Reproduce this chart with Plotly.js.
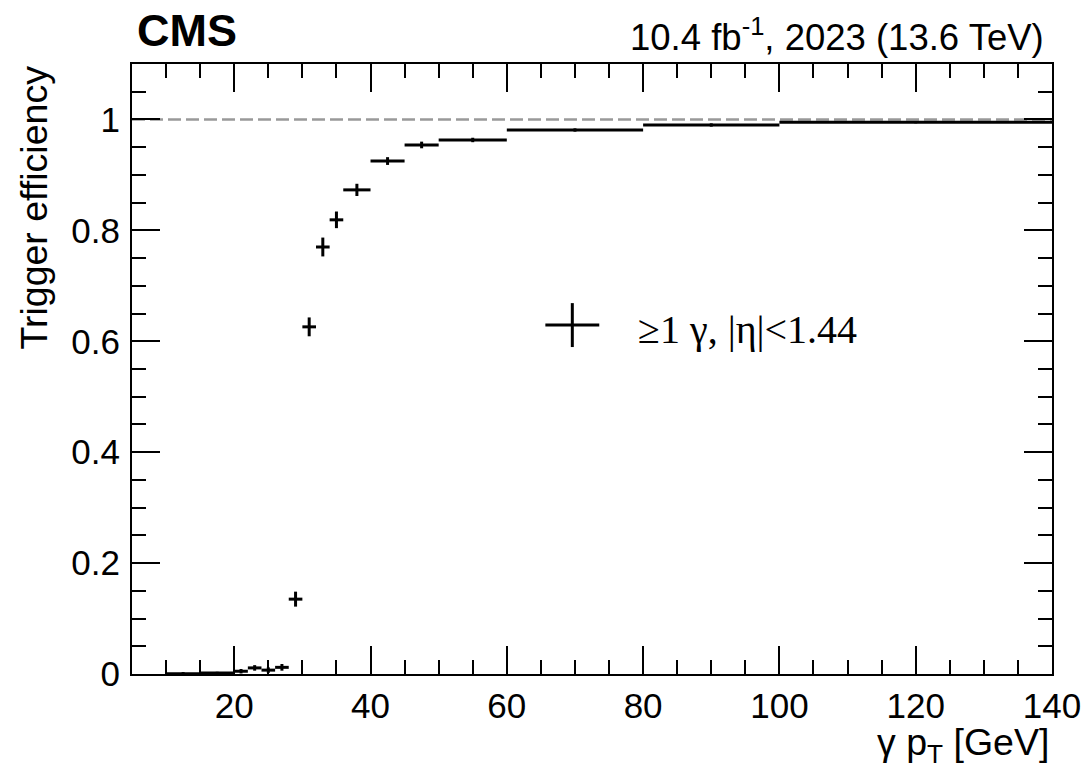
<!DOCTYPE html>
<html>
<head>
<meta charset="utf-8">
<script src="https://cdn.plot.ly/plotly-3.0.1.min.js"></script>
<style>html,body{margin:0;padding:0;background:#fff;}#chart{width:1086px;height:777px;}</style>
</head>
<body>
<div id="chart"></div>
<script>
// Bin centres (GeV), bin half-widths, efficiency and its uncertainty
const binCenters = [12.5, 17.5, 21, 23, 25, 27, 29, 31, 33, 35, 38, 42.5, 47.5, 55, 70, 90, 120];
const binHalfWidths = [2.5, 2.5, 1, 1, 1, 1, 1, 1, 1, 1, 2, 2.5, 2.5, 5, 10, 10, 20];
const efficiency = [0.0005, 0.002, 0.005, 0.011, 0.007, 0.012, 0.135, 0.626, 0.770, 0.819, 0.873, 0.925, 0.954, 0.963, 0.981, 0.990, 0.995];
const effErrors = [0.003, 0.002, 0.004, 0.005, 0.005, 0.006, 0.0135, 0.017, 0.017, 0.015, 0.011, 0.007, 0.006, 0.004, 0.003, 0.003, 0.002];
const legendLabel = "≥1 γ, |η|<1.44";
const referenceLevel = 1;

const trace = {
  x: binCenters,
  y: efficiency,
  type: 'scatter',
  mode: 'markers',
  marker: {size: 1, color: '#000'},
  error_x: {type: 'data', array: binHalfWidths, symmetric: true, color: '#000', thickness: 3, width: 0},
  error_y: {type: 'data', array: effErrors, symmetric: true, color: '#000', thickness: 3, width: 0},
  showlegend: false,
  hoverinfo: 'x+y'
};

const sans = 'Liberation Sans, Arial, sans-serif';
const tickFont = {family: sans, size: 35, color: '#000'};

const layout = {
  width: 1086, height: 777,
  margin: {l: 132, r: 34, t: 64, b: 103},
  paper_bgcolor: '#fff', plot_bgcolor: '#fff',
  showlegend: false,
  xaxis: {
    range: [5, 140], dtick: 20, tick0: 0,
    showgrid: false, zeroline: false,
    showline: true, linecolor: '#000', linewidth: 2, mirror: 'ticks',
    ticks: 'inside', ticklen: 28, tickwidth: 2, tickcolor: '#000',
    minor: {dtick: 5, ticks: 'inside', ticklen: 14, tickwidth: 2, tickcolor: '#000', showgrid: false},
    tickfont: tickFont, ticklabelstandoff: 0
  },
  yaxis: {
    range: [0, 1.1], dtick: 0.2, tick0: 0,
    showgrid: false, zeroline: false,
    showline: true, linecolor: '#000', linewidth: 2, mirror: 'ticks',
    ticks: 'inside', ticklen: 28, tickwidth: 2, tickcolor: '#000',
    minor: {dtick: 0.05, ticks: 'inside', ticklen: 14, tickwidth: 2, tickcolor: '#000', showgrid: false},
    tickfont: tickFont, ticklabelstandoff: 3
  },
  shapes: [
    {type: 'line', xref: 'x', yref: 'y', x0: 5, x1: 140, y0: referenceLevel, y1: referenceLevel,
     line: {color: '#999', width: 2.5, dash: '13px,5px'}, layer: 'below'},
    // legend symbol (cross)
    {type: 'line', xref: 'paper', yref: 'paper', x0: 0.4493, x1: 0.5079, y0: 0.572, y1: 0.572, line: {color: '#000', width: 3}},
    {type: 'line', xref: 'paper', yref: 'paper', x0: 0.4786, x1: 0.4786, y0: 0.536, y1: 0.608, line: {color: '#000', width: 3}}
  ],
  annotations: [
    {text: '<b>CMS</b>', xref: 'paper', yref: 'paper', x: 0.003, y: 1.055, xanchor: 'left', yanchor: 'middle',
     showarrow: false, font: {family: sans, size: 45, color: '#000'}},
    {text: '10.4 fb<sup>-1</sup>, 2023 (13.6 TeV)', xref: 'paper', yref: 'paper', x: 0.993, y: 1.047, xanchor: 'right', yanchor: 'middle',
     showarrow: false, font: {family: sans, size: 36.5, color: '#000'}},
    {text: 'Trigger efficiency', xref: 'paper', yref: 'paper', x: -0.107, y: 1.0, xanchor: 'center', yanchor: 'top',
     textangle: -90, showarrow: false, font: {family: sans, size: 37.5, color: '#000'}},
    {text: 'γ p<sub>T</sub> [GeV]', xref: 'paper', yref: 'paper', x: 0.999, y: -0.116, xanchor: 'right', yanchor: 'middle',
     showarrow: false, font: {family: sans, size: 37.5, color: '#000'}},
    {text: legendLabel, xref: 'paper', yref: 'paper', x: 0.548, y: 0.565, xanchor: 'left', yanchor: 'middle',
     showarrow: false, font: {family: 'Liberation Serif, Times New Roman, serif', size: 40, color: '#000'}}
  ]
};

Plotly.newPlot('chart', [trace], layout, {displayModeBar: false, staticPlot: true});
</script>
</body>
</html>
